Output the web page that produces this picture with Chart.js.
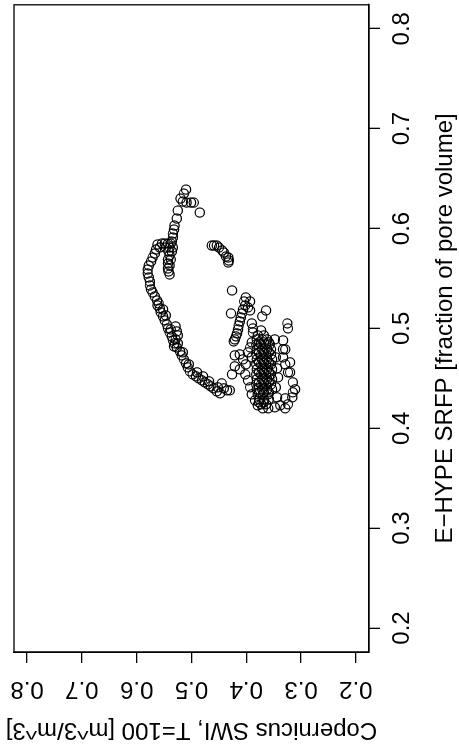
<!DOCTYPE html>
<html>
<head>
<meta charset="utf-8">
<script src="https://cdn.jsdelivr.net/npm/chart.js@4.4.1/dist/chart.umd.min.js"></script>
<style>
  html, body { margin: 0; padding: 0; background: #fff; overflow: hidden; }
  /* the plot is drawn in its upright orientation and then turned a quarter left */
  #wrap { position: absolute; left: 0; top: 0; width: 756px; height: 459px;
          transform-origin: 0 0; transform: translate(0px, 755px) rotate(-90deg); }
</style>
</head>
<body>
<div id="wrap"><canvas id="c" width="756" height="459"></canvas></div>
<script>
const FONT = "'Liberation Sans', Arial, Helvetica, sans-serif";

const srfpTicks = [0.2, 0.3, 0.4, 0.5, 0.6, 0.7, 0.8];
const swiTicks = [0.2, 0.3, 0.4, 0.5, 0.6, 0.7, 0.8];

// E-HYPE SRFP (x) and Copernicus SWI (y)
const srfp = [
  .639, .635, .630, .627, .626, .626, .626, .616, .618, .610, .603, .599, .595, .591, .587,
  .584, .585, .585, .585, .585, .581, .581, .581, .581, .579, .577, .577,
  .573, .569, .569, .565, .563, .560, .557, .554,
  .575, .571, .567, .563, .559, .555, .551, .547, .543, .539, .536, .532,
  .528, .523, .520, .516, .512, .508, .504, .500, .496, .492, .488, .485,
  .502, .497, .493, .489, .485, .481, .477, .473, .469, .465, .461, .457,
  .454, .452, .450, .448, .446, .444, .442, .440, .437, .435, .441, .445, .440, .438, .438,
  .525, .519, .513, .499, .482, .476, .464, .456, .452, .447,
  .583, .583, .583, .581, .578, .576, .572, .571, .568, .566,
  .538, .518, .505, .500, .515,
  .531, .527, .527, .523, .519, .521, .515, .511, .507, .503, .499, .495, .492, .489, .487, .505, .500, .518,
  .512, .498, .493, .493,
  .489, .489, .489,
  .484, .484, .484, .484,
  .479, .479, .479, .479,
  .474, .474, .474, .474,
  .469, .469, .469, .469,
  .464, .464, .464, .464,
  .459, .459, .459, .459,
  .454, .454, .454, .454,
  .449, .449, .449, .449,
  .444, .444, .444, .444,
  .439, .439, .439, .439,
  .434, .434, .434,
  .429, .429, .429,
  .424, .424,
  .420, .420,
  .486, .486, .486, .476, .476, .476, .466, .466, .466, .456, .456, .456,
  .446, .446, .446, .436, .436, .436, .426, .426,
  .489, .488, .479, .479, .471, .466, .464, .456, .456, .446, .439, .436, .431, .424, .420,
  .423, .421, .431, .441, .451, .460, .471, .430,
  .473, .474, .469, .462, .459, .454, .454, .448, .441, .434, .428, .423, .481, .471, .464, .476, .486, .496
];
const swi = [
  .510, .514, .520, .516, .509, .501, .496, .485, .525, .527, .531, .532, .534, .534, .536,
  .562, .554, .549, .543, .538, .558, .547, .540, .534, .565, .542, .536,
  .540, .543, .538, .543, .540, .543, .542, .540,
  .567, .571, .574, .578, .580, .580, .578, .576, .576, .574, .571, .567,
  .563, .562, .558, .556, .552, .549, .545, .543, .540, .536, .534, .531,
  .529, .527, .525, .529, .525, .527, .521, .518, .514, .510, .507, .503,
  .498, .492, .487, .481, .476, .470, .465, .460, .454, .448, .452, .445, .441, .435, .430,
  .560, .552, .547, .538, .532, .516, .505, .490, .479, .468,
  .463, .459, .454, .450, .444, .441, .437, .433, .432, .433,
  .426, .364, .325, .324, .428,
  .401, .393, .404, .402, .406, .397, .408, .410, .412, .414, .415, .417, .419, .421, .423, .390, .388, .393,
  .371, .373, .379, .368,
  .381, .371, .362,
  .382, .373, .364, .357,
  .381, .371, .362, .355,
  .382, .373, .364, .355,
  .381, .371, .362, .353,
  .382, .373, .364, .355,
  .381, .371, .362, .353,
  .382, .373, .364, .355,
  .381, .371, .362, .353,
  .382, .373, .364, .355,
  .381, .371, .362, .353,
  .379, .370, .360,
  .377, .368, .359,
  .373, .364,
  .370, .360,
  .377, .368, .359, .377, .368, .359, .377, .368, .359, .377, .368, .359,
  .377, .368, .359, .377, .368, .359, .377, .368,
  .348, .333, .333, .329, .333, .320, .329, .324, .320, .315, .311, .315, .316, .324, .329,
  .338, .348, .344, .346, .342, .344, .346, .329,
  .421, .412, .406, .421, .412, .402, .426, .397, .393, .390, .384, .379, .393, .390, .401, .397, .390, .388
];

// box round the plot region and the SWI tick labels, written along the axis as R does
const frame = {
  id: 'frame',
  afterDraw(chart) {
    const { ctx, chartArea: a } = chart;
    const ys = chart.scales.y;
    ctx.save();
    ctx.strokeStyle = '#000';
    ctx.lineWidth = 1.3;
    ctx.strokeRect(a.left, a.top, a.right - a.left, a.bottom - a.top);
    ctx.fillStyle = '#000';
    ctx.font = '24px ' + FONT;
    ctx.textAlign = 'center';
    ctx.textBaseline = 'middle';
    ys.ticks.forEach(t => {
      ctx.save();
      ctx.translate(ys.right - 37, ys.getPixelForValue(t.value));
      ctx.rotate(-Math.PI / 2);
      ctx.fillText(t.value.toFixed(1), 0, 0);
      ctx.restore();
    });
    ctx.restore();
  }
};

const axisGrid = { drawOnChartArea: false, drawTicks: true, tickLength: 11, color: '#000', lineWidth: 1.3 };
const axisBorder = { display: true, color: '#000', width: 1.3 };

new Chart(document.getElementById('c').getContext('2d'), {
  type: 'scatter',
  data: {
    datasets: [{
      data: srfp.map((x, i) => ({ x, y: swi[i] })),
      pointStyle: 'circle',
      pointRadius: 4.6,
      pointBorderWidth: 1.2,
      pointBorderColor: '#000',
      pointBackgroundColor: 'rgba(0,0,0,0)',
      showLine: false
    }]
  },
  options: {
    responsive: false,
    animation: false,
    devicePixelRatio: 1,
    layout: { padding: { top: 14, left: 0, right: 0, bottom: 0 } },
    plugins: { legend: { display: false }, tooltip: { enabled: false } },
    scales: {
      x: {
        type: 'linear',
        position: 'bottom',
        min: 0.176,
        max: 0.824,
        afterBuildTicks: s => { s.ticks = srfpTicks.map(v => ({ value: v })); },
        afterFit: s => { s.height = 90; },
        ticks: {
          callback: v => v.toFixed(1),
          font: { family: FONT, size: 24 },
          color: '#000',
          padding: 8,
          maxRotation: 0,
          autoSkip: false
        },
        grid: axisGrid,
        border: axisBorder,
        title: {
          display: true,
          text: 'E\u2212HYPE SRFP [fraction of pore volume]',
          font: { family: FONT, size: 24 },
          color: '#000',
          padding: { top: 0, bottom: -1 }
        }
      },
      y: {
        type: 'linear',
        position: 'left',
        min: 0.176,
        max: 0.824,
        afterBuildTicks: s => { s.ticks = swiTicks.map(v => ({ value: v })); },
        afterFit: s => { s.width = 103; },
        ticks: { display: false },
        grid: axisGrid,
        border: axisBorder,
        title: {
          display: true,
          text: 'Copernicus SWI, T=100 [m^3/m^3]',
          font: { family: FONT, size: 24 },
          color: '#000',
          padding: { top: 10.6, bottom: 0 }
        }
      }
    }
  },
  plugins: [frame]
});
</script>
</body>
</html>
